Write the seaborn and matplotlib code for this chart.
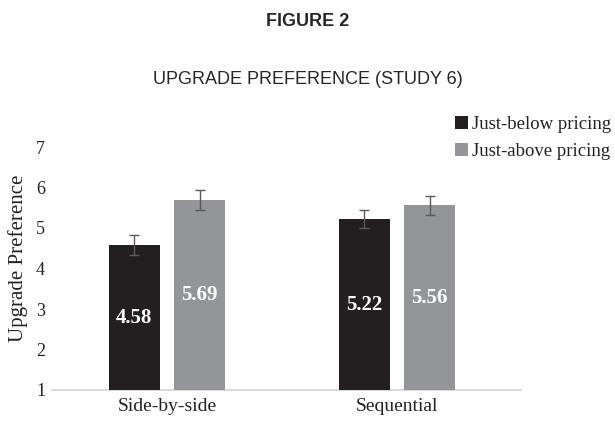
import matplotlib
matplotlib.use("Agg")
import matplotlib.pyplot as plt
import seaborn as sns
import pandas as pd
from matplotlib.patches import Patch

# Data
conditions = ["Side-by-side", "Sequential"]
pricing = ["Just-below pricing", "Just-above pricing"]
below_means = [4.58, 5.22]
above_means = [5.69, 5.56]
below_err = [0.24, 0.23]
above_err = [0.24, 0.23]
y_ticks = [1, 2, 3, 4, 5, 6, 7]

df = pd.DataFrame({
    "Condition": conditions * 2,
    "Pricing": [pricing[0]] * 2 + [pricing[1]] * 2,
    "Mean": below_means + above_means,
    "Err": below_err + above_err,
})

sns.set_style("white")
serif = ["Liberation Serif", "DejaVu Serif"]
sans = ["Liberation Sans", "DejaVu Sans"]

fig = plt.figure(figsize=(6.15, 4.30), dpi=100)
ax = fig.add_axes([52 / 615, 1 - 390 / 430, 460 / 615, (390 - 147) / 430])

palette = {pricing[0]: "#231f20", pricing[1]: "#939598"}
sns.barplot(data=df, x="Condition", y="Mean", hue="Pricing", order=conditions,
            hue_order=pricing, palette=palette, width=0.57, gap=0.22,
            errorbar=None, linewidth=0, saturation=1, legend=False, ax=ax)

# Error bars and centered value labels, taken from each drawn bar
for container, level in zip(ax.containers, pricing):
    errs = df[df["Pricing"] == level].set_index("Condition").loc[conditions, "Err"].tolist()
    xs = [b.get_x() + b.get_width() / 2 for b in container]
    hs = [b.get_height() for b in container]
    ax.errorbar(xs, hs, yerr=errs, fmt="none", ecolor="#5a5a5a",
                elinewidth=1.0, capsize=3.5, capthick=1.0, zorder=5)
    ax.bar_label(container, labels=[f"{h:.2f}" for h in hs], label_type="center",
                 color="white", fontsize=15, fontweight="bold", family=serif)

ax.set_ylim(1, 7)
ax.set_xlim(-0.5, 1.5)
ax.set_yticks(y_ticks)
ax.set_yticklabels([str(t) for t in y_ticks], family=serif, fontsize=13, color="#222222")
ax.set_xticklabels(conditions, family=serif, fontsize=14, color="#222222")
ax.tick_params(axis="y", length=0, pad=5)
ax.tick_params(axis="x", length=0, pad=6)
ax.set_xlabel("")
ax.set_ylabel("")
for side in ["top", "right", "left"]:
    ax.spines[side].set_visible(False)
ax.spines["bottom"].set_color("#d9d9d9")
ax.spines["bottom"].set_linewidth(1.5)
ax.spines["bottom"].set_bounds(-0.5, 1.54)
ax.spines["bottom"].set_zorder(0)

fig.text(18 / 615, 1 - 258 / 430, "Upgrade Preference", rotation=90,
         ha="center", va="center", family=serif, fontsize=15, color="#222222")

# Legend with square swatches
handles = [Patch(facecolor=palette[p], edgecolor="none") for p in pricing]
fig.legend(handles, pricing, loc="upper right", bbox_to_anchor=(1.0, 1 - 112 / 430),
           frameon=False, prop={"family": serif, "size": 13.5},
           handlelength=0.7, handleheight=0.7, handletextpad=0.2, labelspacing=0.55,
           borderaxespad=0.0, borderpad=0.2, labelcolor="#222222")

fig.text(0.5, 1 - 22 / 430, "FIGURE 2", ha="center", va="center",
         family=sans, fontweight="bold", fontsize=13)
fig.text(0.5, 1 - 80 / 430, "UPGRADE PREFERENCE (STUDY 6)", ha="center", va="center",
         family=sans, fontsize=13)

fig.savefig("out.png", dpi=100)
